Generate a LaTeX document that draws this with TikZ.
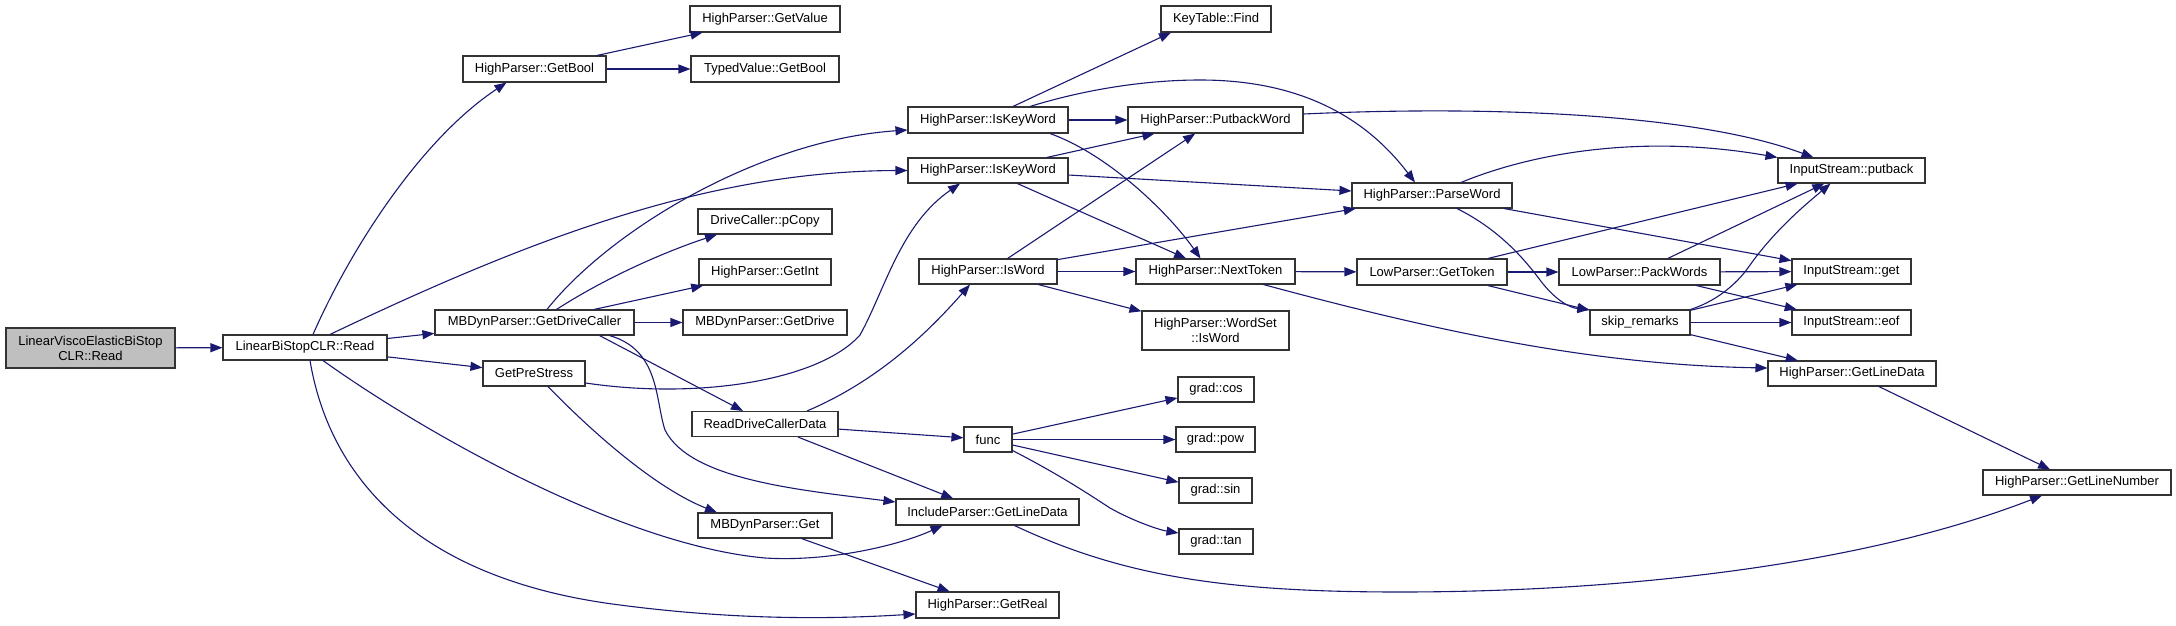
\documentclass[tikz,border=0pt]{standalone}
\usepackage{fontspec}
\setmainfont{Liberation Sans}
\usetikzlibrary{arrows.meta}
\definecolor{edgecol}{HTML}{191970}
\definecolor{nodegray}{HTML}{BFBFBF}
\begin{document}
\begin{tikzpicture}[x=1pt,y=-1pt,
  box/.style={draw=black!80, line width=1.1pt, rectangle, inner sep=0pt, fill=white,
    font=\fontsize{13}{15}\selectfont, align=center},
  callarrow/.style={draw=edgecol, line width=1.1pt, -{Triangle[length=12pt,width=9pt]}}]
\useasboundingbox (0,0) rectangle (2176,626);
% nodes
\node[box, fill=nodegray, minimum width=169, minimum height=40] (lv) at (90.5,348) {LinearViscoElasticBiStop\\CLR::Read};
\node[box, minimum width=164, minimum height=25] (lbs) at (305,347.5) {LinearBiStopCLR::Read};
\node[box, minimum width=143, minimum height=26] (gbool) at (534.5,69) {HighParser::GetBool};
\node[box, minimum width=150, minimum height=26] (gval) at (765,19) {HighParser::GetValue};
\node[box, minimum width=148, minimum height=26] (tvbool) at (765,69) {TypedValue::GetBool};
\node[box, minimum width=199, minimum height=25] (gdc) at (534.5,322.5) {MBDynParser::GetDriveCaller};
\node[box, minimum width=134, minimum height=25] (pcopy) at (765,221.5) {DriveCaller::pCopy};
\node[box, minimum width=132, minimum height=26] (gint) at (765,272) {HighParser::GetInt};
\node[box, minimum width=164, minimum height=25] (gdrive) at (765,322.5) {MBDynParser::GetDrive};
\node[box, minimum width=102, minimum height=25] (gps) at (534,373.5) {GetPreStress};
\node[box, minimum width=146, minimum height=25] (rdcd) at (765,424) {ReadDriveCallerData};
\node[box, minimum width=134, minimum height=25] (mget) at (765,525.5) {MBDynParser::Get};
\node[box, minimum width=110, minimum height=26] (find) at (1216,19) {KeyTable::Find};
\node[box, minimum width=160, minimum height=26] (ikw1) at (988,120) {HighParser::IsKeyWord};
\node[box, minimum width=160, minimum height=25] (ikw2) at (988,170.5) {HighParser::IsKeyWord};
\node[box, minimum width=175, minimum height=26] (pbw) at (1215.5,120) {HighParser::PutbackWord};
\node[box, minimum width=138, minimum height=25] (isw) at (988,271.5) {HighParser::IsWord};
\node[box, minimum width=159, minimum height=25] (ntok) at (1215.5,271.5) {HighParser::NextToken};
\node[box, minimum width=147, minimum height=39] (wsis) at (1215.5,330.5) {HighParser::WordSet\\::IsWord};
\node[box, minimum width=76, minimum height=25] (cos) at (1216,389.5) {grad::cos};
\node[box, minimum width=48, minimum height=25] (func) at (988,439.5) {func};
\node[box, minimum width=79, minimum height=25] (pow) at (1215.5,439.5) {grad::pow};
\node[box, minimum width=73, minimum height=25] (sin) at (1215.5,490.5) {grad::sin};
\node[box, minimum width=74, minimum height=25] (tan) at (1216,541.5) {grad::tan};
\node[box, minimum width=183, minimum height=26] (ipgld) at (987.5,512) {IncludeParser::GetLineData};
\node[box, minimum width=143, minimum height=26] (greal) at (987.5,605) {HighParser::GetReal};
\node[box, minimum width=160, minimum height=25] (pw) at (1432,195.5) {HighParser::ParseWord};
\node[box, minimum width=150, minimum height=26] (gtok) at (1432,272) {LowParser::GetToken};
\node[box, minimum width=161, minimum height=26] (pack) at (1639.5,272) {LowParser::PackWords};
\node[box, minimum width=100, minimum height=25] (skip) at (1640,322.5) {skip\_remarks};
\node[box, minimum width=147, minimum height=25] (putback) at (1851.5,170.5) {InputStream::putback};
\node[box, minimum width=119, minimum height=25] (get) at (1851.5,271.5) {InputStream::get};
\node[box, minimum width=119, minimum height=25] (eof) at (1851.5,322.5) {InputStream::eof};
\node[box, minimum width=168, minimum height=25] (hpgld) at (1852,373.5) {HighParser::GetLineData};
\node[box, minimum width=188, minimum height=25] (gln) at (2077,482.5) {HighParser::GetLineNumber};
% edges
\draw[callarrow] (lv) -- (lbs);
\draw[callarrow] ([xshift=8pt]lbs.north) .. controls (350,250) and (420,140) .. ([xshift=-28pt]gbool.south);
\draw[callarrow] ([xshift=25pt]lbs.north) .. controls (530,239) and (708,171) .. (ikw2.west);
\draw[callarrow] (lbs) -- (gdc);
\draw[callarrow] (lbs) -- (gps);
\draw[callarrow] ([xshift=18pt]lbs.south) .. controls (420,430) and (620,545) .. (765,558) .. controls (830,562) and (900,545) .. ([xshift=-45pt]ipgld.south);
\draw[callarrow] ([xshift=5pt]lbs.south) .. controls (330,480) and (420,580) .. (620,605) .. controls (750,622) and (850,618) .. ([yshift=-9pt]greal.west);
\draw[callarrow] (gbool) -- (gval);
\draw[callarrow] (gbool) -- (tvbool);
\draw[callarrow] ([xshift=12.5pt]gdc.north) .. controls (610,230) and (760,140) .. ([yshift=-10pt]ikw1.west);
\draw[callarrow] ([xshift=22pt]gdc.north) .. controls (610,275) and (670,250) .. ([xshift=-48pt]pcopy.south);
\draw[callarrow] (gdc) -- (gint);
\draw[callarrow] (gdc) -- (gdrive);
\draw[callarrow] ([xshift=65pt]gdc.south) -- ([xshift=-22pt]rdcd.north);
\draw[callarrow] ([xshift=75pt]gdc.south) .. controls (660,350) and (655,400) .. (665,430) .. controls (690,480) and (800,490) .. ([yshift=10pt]ipgld.west);
\draw[callarrow] ([yshift=-9.5pt]gps.east) .. controls (700,400) and (820,380) .. (860,335) .. controls (885,290) and (900,225) .. ([xshift=-28pt]ikw2.south);
\draw[callarrow] ([xshift=14pt]gps.south) .. controls (600,440) and (660,490) .. ([xshift=-48pt]mget.north);
\draw[callarrow] (mget) -- (greal);
\draw[callarrow] ([xshift=42pt]rdcd.north) .. controls (880,380) and (930,330) .. ([xshift=-18pt]isw.south);
\draw[callarrow] (rdcd) -- (func);
\draw[callarrow] (rdcd) -- (ipgld);
\draw[callarrow] (func) -- (cos);
\draw[callarrow] (func) -- (pow);
\draw[callarrow] (func) -- (sin);
\draw[callarrow] ([yshift=-11pt]func.east) .. controls (1060,475) and (1090,495) .. (1110,508) .. controls (1135,522) and (1160,530) .. ([yshift=8.5pt]tan.west);
\draw[callarrow] ([xshift=27pt]ipgld.south) .. controls (1120,575) and (1220,592) .. (1400,592) .. controls (1600,592) and (1850,570) .. ([xshift=-35pt]gln.south);
\draw[callarrow] ([xshift=25pt]ikw1.north) -- ([xshift=-45pt]find.south);
\draw[callarrow] (ikw1) -- (pbw);
\draw[callarrow] ([xshift=42pt]ikw1.north) .. controls (1090,88) and (1150,80) .. (1200,80) .. controls (1290,80) and (1360,110) .. ([xshift=-17pt]pw.north);
\draw[callarrow] ([xshift=62pt]ikw1.south) .. controls (1110,155) and (1170,215) .. ([xshift=-15pt]ntok.north);
\draw[callarrow] (ikw2) -- (pbw);
\draw[callarrow] (ikw2) -- (pw);
\draw[callarrow] (ikw2) -- (ntok);
\draw[callarrow] (isw) -- (pbw);
\draw[callarrow] (isw) -- (pw);
\draw[callarrow] (isw) -- (ntok);
\draw[callarrow] (isw) -- (wsis);
\draw[callarrow] ([yshift=6pt]pbw.east) .. controls (1500,105) and (1700,115) .. ([xshift=-38pt]putback.north);
\draw[callarrow] ([xshift=29pt]pw.north) .. controls (1540,150) and (1650,135) .. (putback.north west);
\draw[callarrow] ([xshift=25pt]pw.south) .. controls (1500,230) and (1525,260) .. (1540,280) .. controls (1555,300) and (1570,308) .. (skip.north west);
\draw[callarrow] (pw) -- (get);
\draw[callarrow] (ntok) -- (gtok);
\draw[callarrow] ([xshift=48pt]ntok.south) .. controls (1450,335) and (1600,365) .. ([yshift=5.5pt]hpgld.west);
\draw[callarrow] (gtok) -- (putback);
\draw[callarrow] (gtok) -- (pack);
\draw[callarrow] (gtok) -- (skip);
\draw[callarrow] (pack) -- (putback);
\draw[callarrow] (pack) -- (get);
\draw[callarrow] (pack) -- (eof);
\draw[callarrow] (skip.north east) .. controls (1720,300) and (1740,280) .. (1750,265) .. controls (1775,230) and (1805,205) .. ([xshift=-21pt]putback.south);
\draw[callarrow] (skip) -- (get);
\draw[callarrow] (skip) -- (eof);
\draw[callarrow] (skip) -- (hpgld);
\draw[callarrow] (hpgld) -- (gln);
\end{tikzpicture}
\end{document}
